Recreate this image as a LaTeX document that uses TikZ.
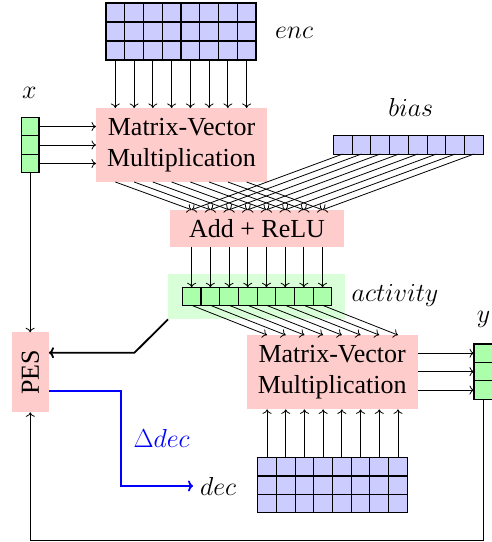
\RequirePackage{fix-cm}
\documentclass[tikz,border=0pt]{standalone}
\usepackage[no-math]{fontspec}
\setmainfont{Liberation Serif}
\usetikzlibrary{arrows.meta}
\newcommand\diafont{\fontsize{26}{31}\selectfont}
\tikzset{
  cell/.style={draw, line width=1.1pt, minimum width=18.7pt, minimum height=18.4pt, inner sep=0pt, outer sep=0pt},
  bluecell/.style={cell, fill=blue!20},
  grncell/.style={cell, fill=green!33},
  pbox/.style={fill=red!20, inner sep=0pt, outer sep=0pt, align=center, font=\diafont},
  lbl/.style={inner sep=0pt, font=\diafont},
  conn/.style={line width=0.8pt, -{To[length=4.5pt,width=9pt]}},
  thickconn/.style={line width=1.8pt, -{To[length=5pt,width=11pt]}},
  blueconn/.style={line width=1.8pt, draw=blue, -{To[length=5pt,width=11pt]}},
}
\begin{document}
\begin{tikzpicture}[x=1pt,y=-1pt]
\useasboundingbox (0,0) rectangle (492,542);
% boxes
\node[pbox, minimum width=171pt, minimum height=74pt] (mv1) at (181.5,145) {Matrix-Vector\\Multiplication};
\node[pbox, minimum width=174pt, minimum height=37pt] (add) at (257,228.3) {Add + ReLU};
\node[fill=green!15, minimum width=177pt, minimum height=45.3pt, inner sep=0pt, outer sep=0pt] (actbg) at (256.5,296.7) {};
\node[pbox, minimum width=171pt, minimum height=74.3pt] (mv2) at (332.2,372.2) {Matrix-Vector\\Multiplication};
\node[pbox, minimum width=37.3pt, minimum height=80pt] (pes) at (30.3,372.3) {\rotatebox{90}{PES}};
% cells
\foreach \r in {1,2,3} {
  \foreach \c in {1,...,8} {
    \node[bluecell, minimum width=18.75pt, minimum height=19pt] (enc-\r-\c) at ({115.375+(\c-1)*18.75},{12.5+(\r-1)*19}) {};
    \node[bluecell, minimum height=18.33pt] (dec-\r-\c) at ({267.05+(\c-1)*18.7},{466.87+(\r-1)*18.33}) {};
  }
  \node[grncell, minimum width=17.7pt, minimum height=18.47pt] (xv-\r) at (30.15,{126.53+(\r-1)*18.47}) {};
  \node[grncell, minimum height=18.43pt] (yv-\r) at (483.35,{353.2+(\r-1)*18.43}) {};
}
\foreach \c in {1,...,8} {
  \node[bluecell, minimum width=18.75pt, minimum height=18.3pt] (bias-\c) at ({342.675+(\c-1)*18.75},144.9) {};
  \node[grncell, minimum height=18pt] (act-\c) at ({191.65+(\c-1)*18.7},296.3) {};
}
% labels
\node[lbl, anchor=base west] (enclbl) at (275,38) {$enc$};
\node[lbl, anchor=base] (xlbl) at (29.3,98) {$x$};
\node[lbl, anchor=base] (biaslbl) at (410.8,116.7) {$bias$};
\node[lbl, anchor=base west] (actlbl) at (351.5,301.7) {$activity$};
\node[lbl, anchor=base] (ylbl) at (483.5,322) {$y$};
\node[lbl, anchor=base, text=blue] (dlbl) at (161.7,447.7) {$\Delta dec$};
\node[lbl, anchor=base west] (declbl) at (200,495) {$dec$};
% connectors
\foreach \c in {1,...,8} {
  \draw[conn] (enc-3-\c.south) -- (enc-3-\c.south |- mv1.north);
  \draw[conn] (mv1.south -| enc-3-\c) -- (add.north -| act-\c);
  \draw[conn] (bias-\c.south) -- (add.north -| act-\c);
  \draw[conn] (add.south -| act-\c) -- (act-\c.north);
  \draw[conn] (act-\c.south) -- (mv2.north -| dec-1-\c);
  \draw[conn] (dec-1-\c.north) -- (mv2.south -| dec-1-\c);
}
\foreach \r in {1,2,3} {
  \draw[conn] (xv-\r.east) -- (xv-\r.east -| mv1.west);
  \draw[conn] (yv-\r.west -| mv2.east) -- (yv-\r.west);
}
\draw[conn] (xv-3.south) -- (xv-3.south |- pes.north);
\coordinate (fb) at (483.35,540.7);
\draw[conn] (yv-3.south) -- (fb) -| (pes.south);
\coordinate (bend) at (134.5,352.7);
\draw[thickconn] (actbg.south west) -- (bend) -- (bend -| pes.east);
\coordinate (bb) at (120.7,390.7);
\draw[blueconn] (pes.east |- bb) -- (bb) |- ([xshift=-7pt]declbl.west);
\end{tikzpicture}
\end{document}
